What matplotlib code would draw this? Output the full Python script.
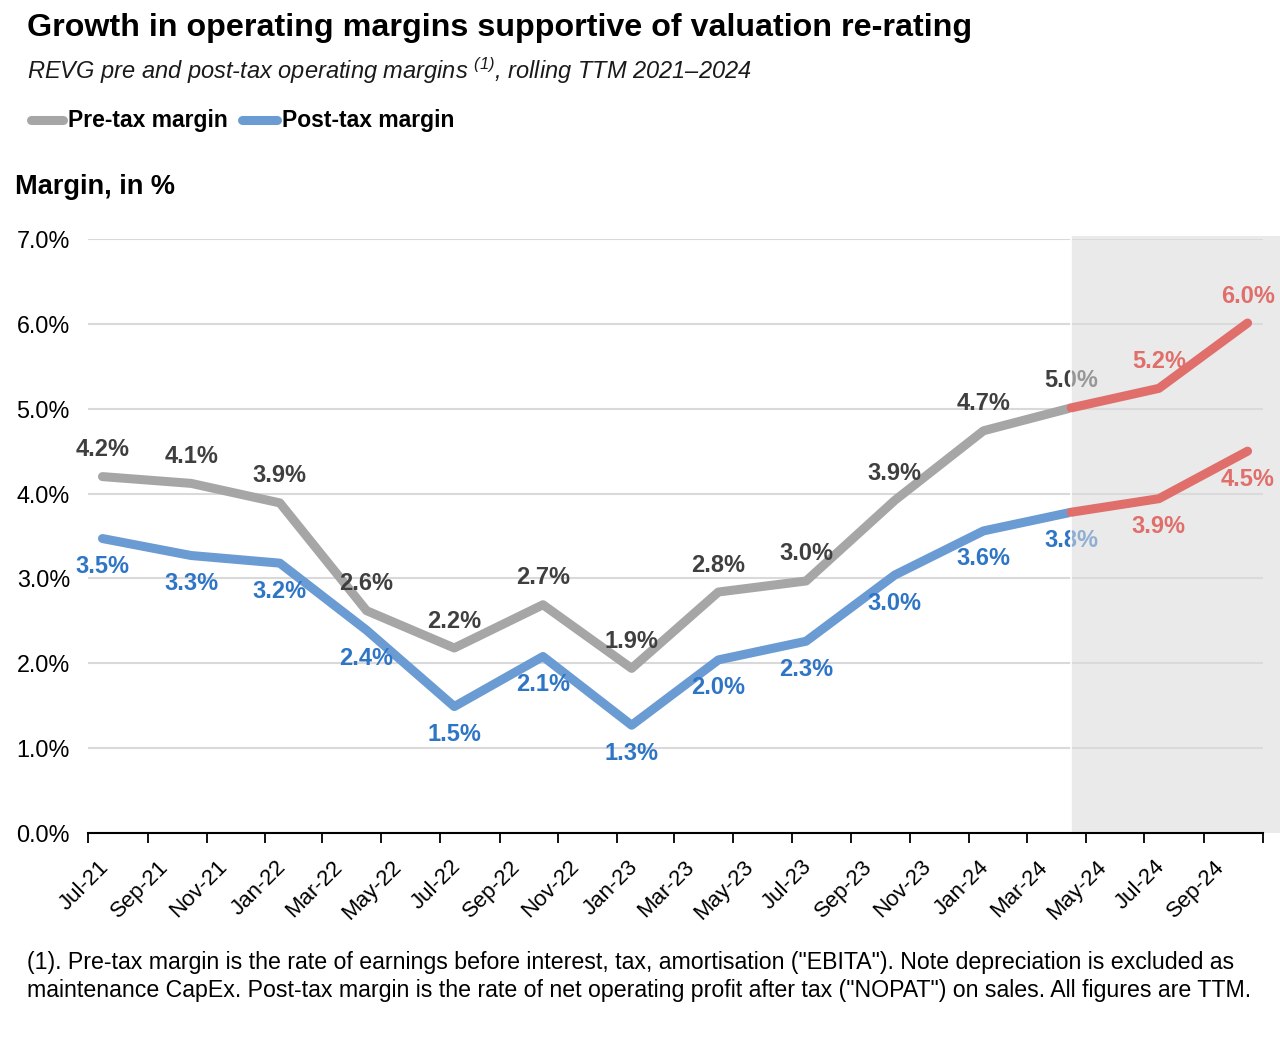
import numpy as np
import pandas as pd
import matplotlib
matplotlib.use('Agg')
import matplotlib.pyplot as plt
import matplotlib.transforms as mtransforms
from matplotlib.lines import Line2D

plt.rcParams['font.family'] = ['Liberation Sans', 'DejaVu Sans']
plt.rcParams['mathtext.fontset'] = 'custom'
plt.rcParams['mathtext.rm'] = 'Liberation Sans:italic'
plt.rcParams['mathtext.it'] = 'Liberation Sans:italic'

# quarterly TTM points, plotted mid-month (date axis)
dates = pd.to_datetime(['2021-07-16', '2021-10-16', '2022-01-16', '2022-04-16',
                        '2022-07-16', '2022-10-16', '2023-01-16', '2023-04-16',
                        '2023-07-16', '2023-10-16', '2024-01-16', '2024-04-16',
                        '2024-07-16', '2024-10-16'])
pre_tax = [4.20, 4.12, 3.89, 2.62, 2.18, 2.69, 1.94, 2.84, 2.97, 3.92, 4.74, 5.01, 5.24, 6.01]
post_tax = [3.47, 3.27, 3.18, 2.39, 1.49, 2.08, 1.27, 2.04, 2.26, 3.04, 3.56, 3.78, 3.94, 4.50]
n_actual = 12  # up to Apr-24 reported, after that projected

tick_dates = pd.date_range('2021-07-01', '2024-11-01', freq='2MS')
tick_labels = [d.strftime('%b-%y') for d in tick_dates[:-1]] + ['']
y_ticks = [0, 1, 2, 3, 4, 5, 6, 7]

GRAY = '#a6a6a6'
BLUE = '#6a9bd2'
RED = '#e06e6a'
DARK = '#3f3f3f'
BLUE_TXT = '#2e75c6'

W, H = 1280, 1042
fig = plt.figure(figsize=(W / 100, H / 100), dpi=100)
ax = fig.add_axes([88 / W, 1 - 833 / H, 1175 / W, 594 / H])

ax.set_xlim(tick_dates[0], tick_dates[-1])
ax.set_ylim(0, 7)

# projection shading
split = dates[n_actual - 1]
ax.axvspan(split, pd.Timestamp('2024-11-30'), ymin=0, ymax=1.005, color='#dbdbdb',
           alpha=0.57, lw=0, zorder=5, clip_on=False)
ax.axvline(split, ymin=0, ymax=1.005, color='white', lw=1.2, zorder=5.5, clip_on=False)

lw = 6.5
kw = dict(lw=lw, solid_capstyle='round', solid_joinstyle='round')
ax.plot(dates[:n_actual], pre_tax[:n_actual], color=GRAY, zorder=3, **kw)
ax.plot(dates[:n_actual], post_tax[:n_actual], color=BLUE, zorder=3, **kw)
ax.plot(dates[n_actual - 1:], pre_tax[n_actual - 1:], color=RED, zorder=6, **kw)
ax.plot(dates[n_actual - 1:], post_tax[n_actual - 1:], color=RED, zorder=6, **kw)

for i, d in enumerate(dates):
    proj = i >= n_actual
    ax.annotate(f'{pre_tax[i]:.1f}%', (d, pre_tax[i]), xytext=(0, 27),
                textcoords='offset pixels', ha='center', va='center',
                fontsize=17, fontweight='bold', color=RED if proj else DARK,
                zorder=7 if proj else 4)
    ax.annotate(f'{post_tax[i]:.1f}%', (d, post_tax[i]), xytext=(0, -28),
                textcoords='offset pixels', ha='center', va='center',
                fontsize=17, fontweight='bold', color=RED if proj else BLUE_TXT,
                zorder=7 if proj else 4)

ax.set_yticks(y_ticks)
ax.set_yticklabels([f'{v:.1f}%' for v in y_ticks])
ax.set_xticks(tick_dates)
ax.set_xticklabels(tick_labels, rotation=45, ha='right', rotation_mode='anchor')
ax.yaxis.grid(True, color='#d9d9d9', lw=1.5)
ax.set_axisbelow(True)
for s in ['top', 'left', 'right']:
    ax.spines[s].set_visible(False)
ax.spines['bottom'].set_linewidth(1.5)
ax.spines['bottom'].set_zorder(8)
ax.tick_params(axis='y', length=0, pad=13, labelsize=16.8)
ax.tick_params(axis='x', length=7, width=1.3, direction='out', pad=4, labelsize=16)

# shift rotated date labels to sit like the original
shift = mtransforms.ScaledTranslation(10 / 100, -8 / 100, fig.dpi_scale_trans)
for lab in ax.get_xticklabels():
    lab.set_transform(lab.get_transform() + shift)

# header text
fig.text(27 / W, 1 - 28 / H, 'Growth in operating margins supportive of valuation re-rating',
         fontsize=23.25, fontweight='bold', va='center')
fig.text(27 / W, 1 - 71 / H,
         r'REVG pre and post-tax operating margins $^{(1)}$, rolling TTM 2021–2024',
         fontsize=17, fontstyle='italic', va='center', color='#1a1a1a')

# legend
ly = 1 - 120 / H
fig.add_artist(Line2D([31 / W, 63 / W], [ly, ly], color=GRAY, **kw))
fig.text(68 / W, ly, 'Pre-tax margin', fontsize=16.5, fontweight='bold', va='center')
fig.add_artist(Line2D([242 / W, 277 / W], [ly, ly], color=BLUE, **kw))
fig.text(282 / W, ly, 'Post-tax margin', fontsize=16.5, fontweight='bold', va='center')

fig.text(15 / W, 1 - 187 / H, 'Margin, in %', fontsize=19.5, fontweight='bold', va='center')

fig.text(27 / W, 1 - 962 / H,
         '(1). Pre-tax margin is the rate of earnings before interest, tax, amortisation ("EBITA"). '
         'Note depreciation is excluded as', fontsize=16.65, va='center')
fig.text(27 / W, 1 - 990 / H,
         'maintenance CapEx. Post-tax margin is the rate of net operating profit after tax ("NOPAT") '
         'on sales. All figures are TTM.', fontsize=16.65, va='center')

fig.savefig('out.png', dpi=100)
